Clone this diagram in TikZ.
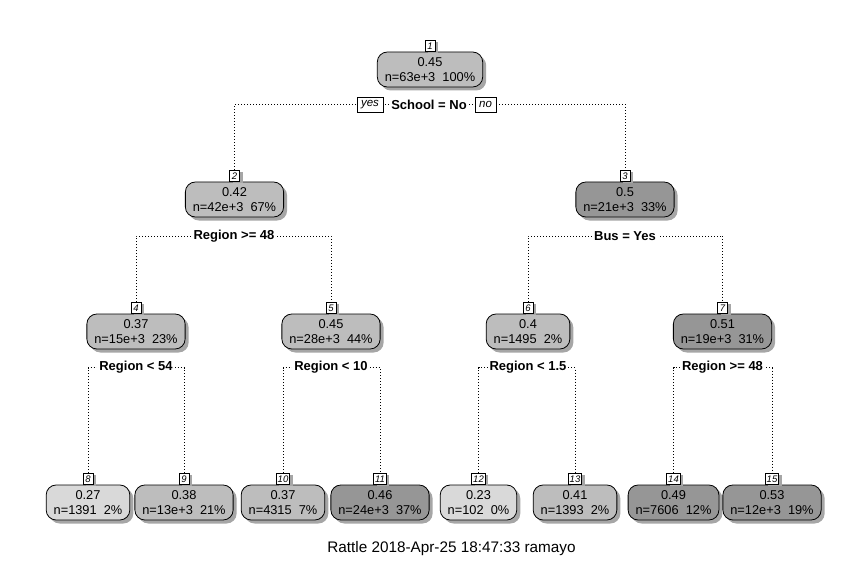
\documentclass[tikz,border=0pt]{standalone}
\usepackage{fontspec}
\setmainfont{Liberation Sans}
\usetikzlibrary{shadows,backgrounds}
\definecolor{gLight}{HTML}{D9D9D9}
\definecolor{gMid}{HTML}{BDBDBD}
\definecolor{gDark}{HTML}{969696}
\definecolor{shade}{HTML}{A6A6A6}
\begin{document}
\begin{tikzpicture}[x=1pt,y=-1pt,
  tnode/.style={draw=black, line width=0.8pt, rounded corners=10pt, align=center,
    inner xsep=7.5pt, inner ysep=2pt, minimum height=35pt,
    font=\fontsize{12.8}{15}\selectfont,
    drop shadow={shadow xshift=3.5pt, shadow yshift=-3.5pt, fill=shade, opacity=1}},
  numlab/.style={draw=black, fill=white, line width=0.6pt, inner xsep=1.5pt, inner ysep=0pt,
    minimum width=10pt, minimum height=11pt, anchor=south,
    font=\fontsize{9.5}{10}\selectfont\itshape,
    drop shadow={shadow xshift=3pt, shadow yshift=-2pt, fill=shade, opacity=1}},
  splitlab/.style={fill=white, inner xsep=2pt, inner ysep=1pt,
    font=\fontsize{13}{15}\selectfont\bfseries},
  yn/.style={draw=black, fill=white, line width=0.6pt, inner xsep=4pt, inner ysep=0pt,
    minimum height=15pt, font=\fontsize{11.5}{13}\selectfont\itshape},
  con/.style={line width=0.9pt, dash pattern=on 0.9pt off 2.1pt},
  foot/.style={font=\fontsize{15.3}{17}\selectfont}
]
\useasboundingbox (0,0) rectangle (866,561);

% level 0
\node[tnode, fill=gMid] (n1) at (430,69.5) {0.45\\n=63e+3\ \ 100\%};
% level 1
\node[tnode, fill=gMid]  (n2) at (234.5,199.5) {0.42\\n=42e+3\ \ 67\%};
\node[tnode, fill=gDark] (n3) at (625,199.5) {0.5\\n=21e+3\ \ 33\%};
% level 2
\node[tnode, fill=gMid]  (n4) at (136,331.5) {0.37\\n=15e+3\ \ 23\%};
\node[tnode, fill=gMid]  (n5) at (331,331.5) {0.45\\n=28e+3\ \ 44\%};
\node[tnode, fill=gMid]  (n6) at (528,331.5) {0.4\\n=1495\ \ 2\%};
\node[tnode, fill=gDark] (n7) at (722.5,331.5) {0.51\\n=19e+3\ \ 31\%};
% level 3
\node[tnode, fill=gLight] (n8)  at (88,502.5)  {0.27\\n=1391\ \ 2\%};
\node[tnode, fill=gMid]   (n9)  at (184,502.5) {0.38\\n=13e+3\ \ 21\%};
\node[tnode, fill=gMid]   (n10) at (283,502.5) {0.37\\n=4315\ \ 7\%};
\node[tnode, fill=gDark]  (n11) at (380,502.5) {0.46\\n=24e+3\ \ 37\%};
\node[tnode, fill=gLight] (n12) at (478.5,502.5) {0.23\\n=102\ \ 0\%};
\node[tnode, fill=gMid]   (n13) at (575,502.5) {0.41\\n=1393\ \ 2\%};
\node[tnode, fill=gDark]  (n14) at (673.5,502.5) {0.49\\n=7606\ \ 12\%};
\node[tnode, fill=gDark]  (n15) at (772,502.5) {0.53\\n=12e+3\ \ 19\%};

% number labels
\foreach \i in {1,...,15} {
  \node[numlab] (l\i) at (n\i.north) {\i};
}

% split labels
\node[splitlab] (s1) at (429,104.5) {School = No};
\node[yn] (yes) at (370,104.5) {yes};
\node[yn] (no) at (485.5,104.5) {no};
\node[splitlab] (s2) at (234,236) {Region >= 48};
\node[splitlab] (s3) at (625,236) {Bus = Yes};
\node[splitlab] (s4) at (136,367.5) {Region < 54};
\node[splitlab] (s5) at (331,367.5) {Region < 10};
\node[splitlab] (s6) at (528,367.5) {Region < 1.5};
\node[splitlab] (s7) at (722.5,367.5) {Region >= 48};

% connectors
\begin{pgfonlayer}{background}
\draw[con] (l2.north) |- (s1.center) -| (l3.north);
\draw[con] (l4.north) |- (s2.center) -| (l5.north);
\draw[con] (l6.north) |- (s3.center) -| (l7.north);
\draw[con] (l8.north) |- (s4.center) -| (l9.north);
\draw[con] (l10.north) |- (s5.center) -| (l11.north);
\draw[con] (l12.north) |- (s6.center) -| (l13.north);
\draw[con] (l14.north) |- (s7.center) -| (l15.north);
\end{pgfonlayer}

\node[foot] (rattle) at (451.5,549) {Rattle 2018-Apr-25 18:47:33 ramayo};
\end{tikzpicture}
\end{document}
